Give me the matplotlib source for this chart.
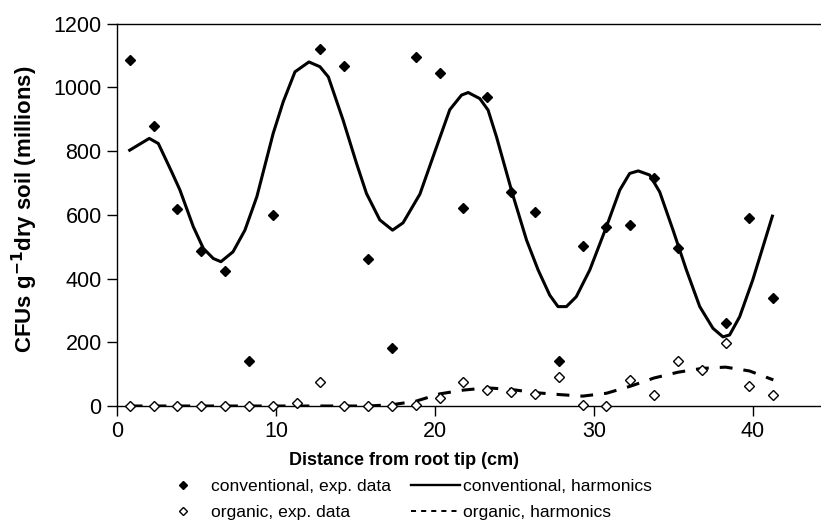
import numpy as np
import matplotlib
matplotlib.use("Agg")
import matplotlib.pyplot as plt
from matplotlib.lines import Line2D

plt.rcParams["font.family"] = ["Liberation Sans", "DejaVu Sans"]

# sampling positions (cm from root tip)
dist = [0.8, 2.3, 3.8, 5.3, 6.8, 8.3, 9.8, 11.3, 12.8, 14.3, 15.8, 17.3, 18.8, 20.3,
        21.8, 23.3, 24.8, 26.3, 27.8, 29.3, 30.8, 32.3, 33.8, 35.3, 36.8, 38.3, 39.8, 41.3]

# experimental data (millions CFU / g dry soil); nan = no point visible
conv_data = [1087, 880, 618, 486, 425, 141, 599, np.nan, 1122, 1068, 460, 181, 1095, 1045,
             622, 970, 671, 609, 142, 503, 563, 568, 715, 495, np.nan, 262, 591, 339]
org_data = [0, 0, 0, 0, 0, 0, 0, 8, 76, 0, 0, 1, 3, 26,
            76, 50, 44, 39, 92, 3, 0, 82, 35, 142, 113, 197, 63, 35]

# harmonic fit, conventional
conv_fit_x = [0.8, 2.03, 2.6, 3.44, 3.96, 4.8, 5.43, 6.06, 6.54, 7.3, 8.05, 8.8, 9.83,
              10.46, 11.2, 12.08, 12.77, 13.3, 14.23, 15.07, 15.7, 16.54, 17.34, 18.0,
              19.06, 20.0, 20.94, 21.68, 22.1, 22.83, 23.35, 23.88, 24.88, 25.77, 26.5,
              27.23, 27.75, 28.28, 28.9, 29.75, 30.8, 31.64, 32.26, 32.8, 33.52, 34.15,
              34.99, 35.83, 36.67, 37.5, 38.13, 38.55, 39.18, 40.0, 40.65, 41.24]
conv_fit_y = [803, 840, 824, 735, 678, 563, 495, 463, 453, 484, 552, 657, 856,
              955, 1049, 1080, 1065, 1033, 897, 762, 667, 584, 552, 575,
              665, 798, 930, 976, 984, 965, 929, 845, 667, 521, 427,
              348, 312, 312, 343, 427, 563, 678, 730, 738, 725, 672,
              552, 427, 312, 244, 217, 223, 280, 395, 500, 596]

# harmonic fit, organic
org_fit_x = [0.8, 2.3, 3.8, 5.3, 6.8, 8.3, 9.8, 11.3, 12.8, 14.3, 15.8, 17.3, 18.8, 20.3,
             21.8, 23.3, 24.8, 26.3, 27.8, 29.3, 30.8, 32.3, 33.8, 35.3, 36.8, 38.3, 39.8, 41.3]
org_fit_y = [0, 0, 0, 0, 0, 0, 0, 0, 0, 0, 0, 4, 15, 38,
             50, 57, 52, 42, 36, 31, 40, 62, 88, 106, 118, 122, 110, 82]

fig = plt.figure(figsize=(8.21, 5.27), dpi=100)
ax = fig.add_axes([0.1425, 0.2296, 0.8575, 0.7254])

ax.plot(conv_fit_x, conv_fit_y, color="black", lw=2.2)
ax.plot(org_fit_x, org_fit_y, color="black", lw=2.2, dashes=(4.2, 3.6))
ax.plot(dist, conv_data, ls="none", marker="D", ms=5.2, mfc="black", mec="black",
        clip_on=False, zorder=3)
ax.plot(dist, org_data, ls="none", marker="D", ms=5.2, mfc="white", mec="black",
        mew=1.0, clip_on=False, zorder=3)

ax.set_xlim(0, 44.3)
ax.set_ylim(0, 1200)
ax.set_xticks([0, 10, 20, 30, 40])
ax.set_yticks(range(0, 1201, 200))
ax.spines["right"].set_visible(False)
for s in ["left", "bottom", "top"]:
    ax.spines[s].set_linewidth(1.0)
ax.tick_params(direction="out", length=7, width=1, labelsize=15.5, pad=4)

ax.set_xlabel("Distance from root tip (cm)", fontsize=13, fontweight="bold")
ax.xaxis.set_label_coords(0.408, -0.121)
fig.text(25 / 821, 1 - 209 / 527, "CFUs g$^{\\mathbf{-1}}$dry soil (millions)",
         fontsize=16, fontweight="bold", rotation=90, ha="center", va="center")

handles = [
    Line2D([], [], ls="none", marker="D", ms=4, mfc="black", mec="black"),
    Line2D([], [], ls="none", marker="D", ms=4, mfc="white", mec="black"),
    Line2D([], [], color="black", lw=1.7),
    Line2D([], [], color="black", lw=1.4, dashes=(2.6, 2.6)),
]
labels = ["conventional, exp. data", "organic, exp. data",
          "conventional, harmonics", "organic, harmonics"]
fig.legend(handles, labels, ncol=2, loc="upper left", bbox_to_anchor=(0.182, 0.108),
           frameon=False, fontsize=12.6, handlelength=2.8, handletextpad=0.2,
           columnspacing=1.14, labelspacing=0.6, borderpad=0)

fig.savefig("out.png", dpi=100)
